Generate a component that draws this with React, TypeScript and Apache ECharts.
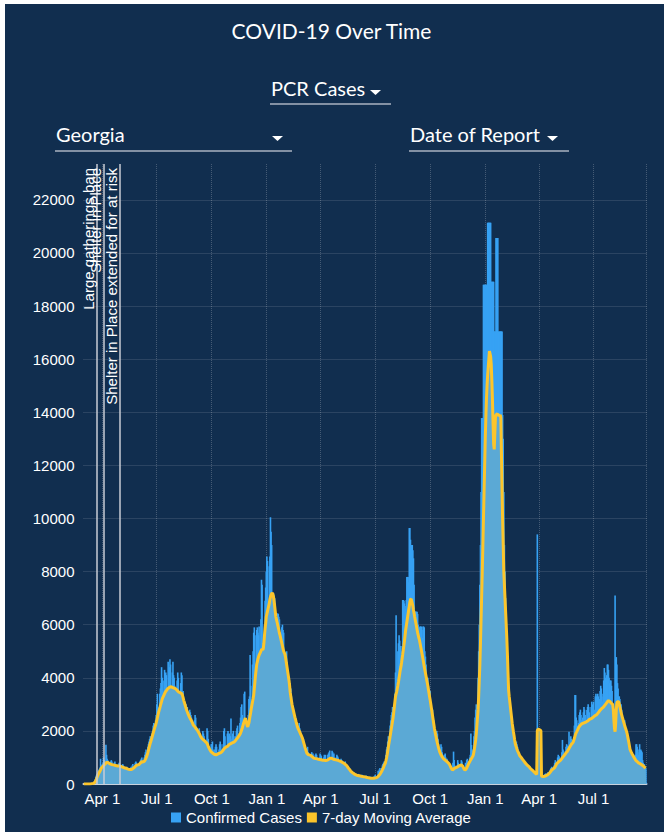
import React, { useEffect, useRef } from "react";
import * as echarts from "echarts";

// Daily PCR cases by date of report (Georgia), Mar 1 2020 onward
const cases2020 = [
  0,0,2,0,0,1,0,2,5,5,10,15,15,30,35,30,40,60,110,180,260,320,380,420,480,520,560,620,950,600,720,
  750,800,1000,900,650,700,1480,1100,950,900,800,650,600,800,850,900,850,750,650,600,800,850,750,700,650,550,600,750,800,700,
  700,500,450,650,750,700,650,600,450,400,600,650,600,550,500,400,450,550,650,600,700,750,650,500,600,800,850,800,750,700,650,
  600,700,850,900,950,1000,850,650,800,1000,1100,1200,1300,1100,900,1400,1500,1600,1700,1800,1650,1400,1900,2000,2200,2300,2100,1900,2400,2600,
  3000,3400,2900,2600,2300,3400,3600,3800,4400,4000,3500,2800,3900,4300,3900,4200,4100,3300,3100,4600,4000,4400,4700,4500,3600,3000,4200,4600,4100,4000,3700,
  3600,2600,2500,3900,4200,4000,3500,3200,2700,3800,4200,4100,3300,3500,3000,2200,2800,2900,3000,2800,2900,2700,2000,2400,2800,2700,2600,2500,2300,1900,2100,
  2300,2400,2600,2500,1800,1500,1100,1600,2000,2100,1900,1700,1400,1200,1500,2000,1900,1800,1600,1300,1100,1400,2100,2000,1700,1400,1000,900,1300,1500,
  1500,1600,1300,900,1000,1300,1400,1500,1400,1200,900,800,1300,1500,1600,1500,1300,1000,900,1500,2000,2100,1800,1400,1100,1200,1900,2000,1800,1900,1500,
  1800,2470,1600,1700,1900,2000,1800,1400,1300,1800,2000,2100,2200,1900,1600,1500,2300,2500,2900,3000,2600,2200,2100,3400,3480,1700,1600,2400,2000,1900,
  2600,3200,3300,4860,3700,3000,2900,4500,5000,5700,5900,5600,4200,4000,5800,5900,5700,5600,5930,4200,4300,6200,7690,7500,5000,3600,3900,6000,6900,7400,8000,
];
const cases2021 = [
  8570,8400,5000,5500,8200,8570,10050,9500,9000,6000,5500,7180,7100,7000,6800,5600,4800,4500,6430,6400,6300,6200,5500,4200,4000,5900,6000,5800,5700,4800,4000,
  3800,4800,5000,4600,4200,3600,2800,2600,3800,3600,3300,3000,2500,2200,1900,2400,2600,2500,2300,2000,1700,1600,2200,2300,2100,2000,1600,1400,
  1300,1600,1700,1500,1400,1200,900,900,1300,1400,1200,1100,1000,800,800,1100,1200,1100,1150,900,700,700,1100,1150,1100,1000,900,700,700,1000,1150,
  1100,1050,800,600,700,1000,1100,1050,1100,900,700,700,1100,1150,1200,1260,1000,800,900,1250,1200,1100,1150,1000,700,650,1000,1100,1050,1000,
  800,700,600,900,950,900,850,700,600,550,800,850,750,700,550,450,400,550,600,500,450,400,300,350,450,450,400,350,300,280,250,
  300,350,380,350,300,220,200,320,350,330,300,250,200,180,300,320,300,280,220,160,150,250,280,260,240,200,150,160,280,300,
  350,300,200,150,180,500,450,550,600,400,300,600,700,750,800,850,600,500,1100,1300,1400,1600,1800,1200,1000,2200,2400,2600,2700,2900,2000,
  2600,2900,3400,4200,6360,4000,3300,5000,5300,5600,5400,5200,5000,4800,5200,6930,6930,6900,6800,6700,6600,6930,7800,7800,7800,7600,9640,9640,9200,9000,9000,
  9000,8800,8500,7500,6500,6490,6490,6490,6490,6400,6000,5800,5900,5930,5930,5930,5800,5500,5930,5930,5900,5000,4800,4500,4000,3800,4000,3700,3500,3300,
  3500,3000,2400,2200,2800,2600,2400,2000,1800,1500,1400,2000,1900,1700,1500,1100,1000,1300,1500,1400,1200,1100,800,800,1100,1150,1000,900,950,700,650,
  700,650,600,550,500,400,350,800,1220,900,700,600,500,450,700,900,800,750,700,600,550,900,850,700,400,300,350,500,800,750,
  900,950,800,600,500,1000,1100,1900,1470,1300,900,800,1800,2000,2500,2800,3000,2600,2400,4000,5000,6000,7500,9000,11000,13780,13780,13780,18800,18800,18800,
];
const cases2022 = [
  18800,18800,18800,18800,21140,21140,21140,21140,21140,21140,18920,18920,18920,18920,18920,17040,17040,17040,20560,20560,20560,20560,17040,17040,17040,17040,17040,17040,17040,13900,13000,
  11000,9000,8000,7000,6000,5000,4000,3800,3500,3300,3000,2800,2500,2400,2200,2000,1900,1800,1600,1500,1400,1600,1500,1400,1200,1100,900,1000,
  900,850,800,750,700,650,600,700,750,700,650,600,500,550,600,550,500,450,400,450,500,450,400,380,350,300,350,400,9400,2000,400,
  450,380,300,250,300,350,320,250,280,350,380,400,350,300,400,450,350,300,500,550,600,650,600,500,450,700,800,900,850,800,
  700,1000,1100,1050,1000,900,800,900,1200,1660,1300,1250,1100,1000,1100,1400,1500,1450,1400,1300,1970,1300,1600,1800,1700,1650,1500,1400,1500,2200,3350,
  3350,2500,2400,2200,2000,2300,2600,2700,2800,2600,2400,2200,2500,2700,2900,2800,2600,2300,2100,2790,2900,3000,2900,2700,2400,2500,2900,3100,3000,2900,
  3100,2800,2600,3300,3400,3300,3200,3400,3300,3000,3200,3500,3700,3600,3400,3100,3300,3900,4370,4200,4000,3800,4100,4500,4500,4300,4000,3800,3900,3900,3700,
  3500,3000,2800,2500,2200,7100,4700,4780,4500,3800,3600,3300,3300,3200,2900,3000,2800,2600,2500,2400,2300,2400,2200,2100,2000,1900,1700,1500,1400,1300,1200,
  1100,1000,900,700,600,800,900,1000,1100,1500,1500,1400,1200,1100,1300,1500,1200,1300,1250,1200,900,800,700,750,650,600,550,
];

// 7-day moving average
const ma2020 = [
  0,0,0,0,0,0,0,0,1,2,3,5,7,10,14,18,24,35,50,80,120,170,240,300,350,400,440,480,530,580,620,
  640,660,690,720,740,760,790,810,815,810,800,790,770,760,750,740,730,725,720,715,710,705,700,700,690,690,680,680,675,670,
  670,660,650,650,640,630,620,610,600,600,590,580,570,560,555,550,550,545,545,550,560,580,600,620,640,660,680,700,710,720,720,
  730,750,780,800,820,840,850,830,820,850,880,920,980,1040,1100,1180,1270,1360,1450,1530,1600,1680,1760,1840,1920,2000,2080,2150,2220,2300,
  2400,2500,2600,2700,2780,2860,2950,3030,3110,3200,3250,3300,3350,3400,3450,3490,3520,3550,3580,3600,3620,3640,3650,3660,3650,3650,3640,3630,3620,3610,3600,
  3590,3570,3550,3530,3500,3480,3460,3450,3440,3420,3410,3400,3330,3250,3150,3080,3000,2920,2850,2780,2720,2660,2600,2550,2500,2460,2420,2380,2330,2280,2220,
  2200,2170,2140,2110,2080,2050,2020,1980,1940,1900,1850,1800,1760,1730,1700,1680,1660,1640,1620,1600,1580,1560,1530,1480,1420,1370,1320,1280,1240,1210,
  1190,1170,1150,1130,1120,1110,1100,1100,1110,1120,1130,1140,1150,1160,1170,1180,1200,1220,1250,1280,1310,1340,1360,1380,1400,1410,1420,1440,1460,1480,1500,
  1510,1520,1540,1550,1560,1570,1580,1600,1620,1650,1680,1710,1740,1770,1800,1830,1870,1920,1980,2050,2120,2200,2280,2350,2420,2480,2400,2300,2200,2150,
  2150,2300,2450,2580,2700,2850,2980,3100,3220,3350,3600,3850,4100,4300,4500,4600,4700,4780,4850,4900,4950,5000,5050,5080,5050,5100,5300,5600,5850,6050,6300,
];
const ma2021 = [
  6400,6500,6600,6700,6800,6950,7050,7120,7170,7200,7150,7050,6900,6700,6500,6300,6200,6100,6000,5900,5800,5680,5600,5500,5400,5300,5200,5100,5000,4950,4900,
  4800,4650,4500,4350,4200,4050,3900,3700,3450,3300,3150,3000,2900,2800,2700,2600,2500,2420,2330,2250,2160,2100,2050,2000,1950,1900,1850,1800,
  1750,1680,1600,1520,1440,1360,1290,1220,1150,1130,1110,1100,1095,1090,1080,1060,1040,1020,1000,980,970,965,960,955,950,945,940,935,930,925,920,
  915,910,905,900,895,890,890,885,885,890,895,900,910,920,940,960,970,975,970,960,950,940,930,920,915,910,905,900,895,890,
  880,870,860,850,840,830,820,805,790,780,760,740,720,700,670,640,610,580,550,520,490,465,445,425,410,395,380,365,350,340,330,
  325,320,315,310,305,300,295,290,285,282,280,276,272,268,262,256,250,245,240,235,230,225,220,218,216,215,215,216,218,220,
  225,230,240,250,265,285,310,335,365,400,440,480,530,580,630,690,740,790,880,980,1100,1240,1380,1530,1660,1800,1940,2080,2220,2360,2500,
  2700,2900,3100,3290,3400,3480,3600,3720,3850,4000,4150,4300,4410,4560,4720,4880,5050,5220,5400,5600,5800,5950,6100,6250,6400,6550,6700,6850,6950,6970,6900,
  6800,6700,6550,6430,6300,6180,6060,5940,5820,5700,5600,5500,5420,5300,5180,5060,4940,4820,4700,4560,4420,4300,4180,4060,3940,3820,3700,3560,3420,3280,
  3150,3000,2850,2700,2550,2400,2250,2100,1980,1860,1750,1640,1540,1450,1360,1280,1200,1150,1100,1060,1020,990,960,940,920,900,880,860,840,820,800,
  780,750,700,650,600,560,530,540,560,580,600,610,620,630,640,650,660,680,690,700,710,715,710,680,640,590,550,530,540,560,
  600,650,700,750,800,840,880,920,960,1000,1040,1090,1200,1350,1500,1660,1900,2200,2500,2790,3300,3900,4500,5300,6200,7100,8000,9000,10000,11000,12000,
];
const ma2022 = [
  13000,13800,14500,15000,15400,15700,16000,16300,16300,16100,15800,15200,14500,13600,12800,12600,13200,13800,13900,13900,13950,13900,13900,13900,13850,13900,13800,12500,11200,10000,9000,
  8000,7500,7000,6500,6000,5500,4900,4200,3540,3300,3100,2900,2700,2500,2290,2130,1980,1840,1680,1530,1450,1380,1310,1250,1200,1150,1100,1050,
  1030,1000,970,940,910,880,850,820,790,760,735,715,690,670,650,630,600,570,550,530,510,490,470,450,420,400,380,360,2000,2060,2060,
  2050,2040,2030,2000,310,290,280,276,280,290,300,310,320,330,340,360,380,400,430,460,490,520,540,560,580,590,620,660,700,750,
  780,800,820,840,860,880,900,930,960,990,1020,1050,1080,1110,1140,1170,1200,1220,1260,1300,1340,1380,1420,1460,1500,1520,1530,1580,1650,1720,1800,
  1880,1930,1970,2020,2070,2120,2160,2190,2220,2240,2260,2270,2280,2290,2300,2310,2320,2330,2340,2350,2370,2390,2410,2430,2440,2450,2460,2470,2490,2510,
  2530,2550,2560,2580,2590,2600,2630,2660,2690,2720,2750,2780,2800,2830,2850,2870,2890,2910,2940,2970,3000,3030,3060,3090,3120,3140,3130,3110,3090,3060,3040,
  3040,3000,2800,2400,2100,1970,2300,2800,3050,3100,3100,3100,3000,2900,2800,2700,2600,2520,2440,2360,2280,2200,2130,2060,1990,1910,1800,1680,1560,1430,1300,
  1250,1200,1155,1110,1070,1030,990,950,910,880,860,840,820,800,790,780,760,745,730,715,700,680,660,640,620,600,590,
];

const eventDates = ["2020-03-23", "2020-04-03", "2020-04-30"];
const eventLabels = ["Large gatherings ban", "Shelter in Place", "Shelter in Place extended for at risk"];
const yTickStep = 2000;
const yMax = 23350;
const monthNames = ["Jan","Feb","Mar","Apr","May","Jun","Jul","Aug","Sep","Oct","Nov","Dec"];

const cases = [...cases2020, ...cases2021, ...cases2022];
const movingAvg = [...ma2020, ...ma2021, ...ma2022];
const startMs = Date.UTC(2020, 2, 1);
const dates = cases.map((_, i) => new Date(startMs + i * 86400000).toISOString().slice(0, 10));

const isQuarterStart = (v: string) => {
  const m = +v.slice(5, 7);
  const d = +v.slice(8, 10);
  return d === 1 && (m === 1 || m === 4 || m === 7 || m === 10);
};

const BG = "#112e4f";
const SANS = "'Liberation Sans', Arial, sans-serif";
const LATO = "Lato, 'Open Sans', sans-serif";

export default function App() {
  const ref = useRef<HTMLDivElement>(null);
  useEffect(() => {
    if (!ref.current) return;
    const chart = echarts.init(ref.current, null, { renderer: "svg" });
    const dropdown = (text: string, x: number, y: number, caretX: number, lineX2: number, lineY: number) => [
      { type: "text", x, y, style: { text, fill: "#ffffff", fontSize: 20, fontFamily: LATO, align: "left", verticalAlign: "middle", textAlign: "left", textVerticalAlign: "middle" } },
      { type: "polygon", shape: { points: [[caretX, y + 2], [caretX + 11, y + 2], [caretX + 5.5, y + 7]] }, style: { fill: "#ffffff" } },
      { type: "line", shape: { x1: x - 1, y1: lineY, x2: lineX2, y2: lineY }, style: { stroke: "#aab3c0", lineWidth: 1.5 } },
    ];
    chart.setOption({
      animation: false,
      backgroundColor: BG,
      graphic: [
        { type: "text", x: 326.5, y: 26, style: { text: "COVID-19 Over Time", fill: "#ffffff", fontSize: 21, fontFamily: LATO, align: "center", verticalAlign: "middle", textAlign: "center", textVerticalAlign: "middle" } },
        ...dropdown("PCR Cases", 266, 84, 365, 386, 100),
        ...dropdown("Georgia", 51, 130, 267, 287, 147),
        ...dropdown("Date of Report", 405, 130, 542, 564, 147),
      ],
      legend: {
        bottom: 2,
        left: 161,
        icon: "rect",
        itemWidth: 10,
        itemHeight: 10,
        itemGap: 5,
        textStyle: { color: "#ffffff", fontSize: 15, fontFamily: SANS },
        data: ["Confirmed Cases", "7-day Moving Average"],
      },
      grid: { left: 78.5, right: 17.5, top: 160, bottom: 48 },
      xAxis: {
        type: "category",
        data: dates,
        boundaryGap: true,
        axisLine: { lineStyle: { color: "#c9d2dd", width: 2 } },
        axisTick: { interval: (i: number, v: string) => isQuarterStart(v), length: 6, lineStyle: { color: "#c9d2dd", width: 1.5 } },
        axisLabel: {
          interval: (i: number, v: string) => isQuarterStart(v),
          formatter: (v: string) => monthNames[+v.slice(5, 7) - 1] + " " + +v.slice(8, 10),
          color: "#ffffff",
          fontSize: 15,
          fontFamily: SANS,
          margin: 7,
        },
        splitLine: { show: true, interval: (i: number, v: string) => isQuarterStart(v), lineStyle: { color: "rgba(255,255,255,0.22)", type: "dotted", width: 1 } },
      },
      yAxis: {
        type: "value",
        min: 0,
        max: yMax,
        interval: yTickStep,
        axisLine: { show: false },
        axisTick: { show: false },
        axisLabel: { color: "#ffffff", fontSize: 15, fontFamily: SANS, margin: 9, showMaxLabel: false, formatter: (v: number) => String(v) },
        splitLine: { show: true, showMaxLine: false, lineStyle: { color: "rgba(255,255,255,0.22)", type: "dotted", width: 1 } },
      },
      series: [
        {
          name: "Confirmed Cases",
          type: "bar",
          data: cases,
          barWidth: 1.6,
          itemStyle: { color: "#37a2f4" },
          z: 2,
          markLine: {
            silent: true,
            symbol: "none",
            animation: false,
            lineStyle: { color: "#c8cdd4", width: 1.5, type: "solid" },
            label: { show: true, position: "insideEndTop", color: "#ffffff", fontSize: 15, fontFamily: SANS, distance: [4, 1] },
            data: eventDates.map((d, i) => ({ xAxis: d, label: { formatter: eventLabels[i] } })),
          },
        },
        {
          name: "7-day Moving Average",
          type: "line",
          data: movingAvg,
          symbol: "none",
          showSymbol: false,
          lineStyle: { color: "#fcc52b", width: 3 },
          itemStyle: { color: "#fcc52b" },
          areaStyle: { color: "#5ba9d5", opacity: 1 },
          z: 3,
        },
      ],
    });
    return () => chart.dispose();
  }, []);
  return (
    <div style={{ position: "absolute", left: 5, top: 4, width: 659, height: 828, background: BG }}>
      <div ref={ref} style={{ width: 659, height: 828 }} />
    </div>
  );
}
